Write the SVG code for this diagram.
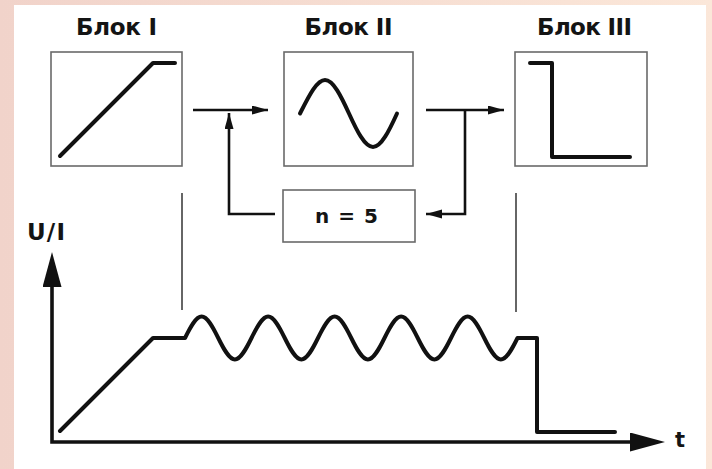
<svg xmlns="http://www.w3.org/2000/svg" width="712" height="469" viewBox="0 0 712 469">
<defs>
<linearGradient id="bg" x1="0" y1="0" x2="1" y2="0">
<stop offset="0" stop-color="#f1d3ca"/>
<stop offset="1" stop-color="#fbe7d9"/>
</linearGradient>
<marker id="axArrow" markerUnits="userSpaceOnUse" markerWidth="36" markerHeight="20" refX="2" refY="9.5" orient="auto-start-reverse">
<path d="M0,0 L35,9.5 L0,19 Z" fill="#111"/>
</marker>
<marker id="cnArrow" markerUnits="userSpaceOnUse" markerWidth="18" markerHeight="10" refX="16" refY="4.5" orient="auto">
<path d="M0,0 L16,4.5 L0,9 Z" fill="#111"/>
</marker>
<style>
.box{fill:#fff;stroke:#6a6a6a;stroke-width:1.6}
.ttl{font-family:"DejaVu Sans","Liberation Sans",sans-serif;font-weight:bold;font-size:23px;fill:#141414;text-anchor:middle}
.lbl{font-family:"DejaVu Sans","Liberation Sans",sans-serif;font-weight:bold;fill:#141414}
.sig{fill:none;stroke:#111;stroke-width:4;stroke-linejoin:round;stroke-linecap:round}
.con{fill:none;stroke:#111;stroke-width:2.6}
.thin{fill:none;stroke:#333;stroke-width:1.5}
.axis{fill:none;stroke:#111;stroke-width:3.6}
</style>
</defs>
<rect x="0" y="0" width="712" height="469" fill="url(#bg)"/>
<rect x="14" y="5" width="692" height="464" fill="#fff"/>

<g id="block1">
<text class="ttl" x="116.5" y="35" textLength="81" lengthAdjust="spacing">Блок I</text>
<rect class="box" x="51" y="52" width="131" height="114"/>
<path class="sig" d="M60,156 L153,63 L175,63"/>
</g>

<g id="block2">
<text class="ttl" x="348.5" y="35" textLength="88" lengthAdjust="spacing">Блок II</text>
<rect class="box" x="284" y="52" width="129" height="114"/>
<path class="sig" d="M300,113.5 C308.8,96.3 316.7,80 325,80 S341.2,96.3 349,113.5 S364.8,147 373,147 S389.2,130.7 397,113.5"/>
</g>

<g id="block3">
<text class="ttl" x="584.5" y="35" textLength="95" lengthAdjust="spacing">Блок III</text>
<rect class="box" x="515" y="52" width="132" height="114"/>
<path class="sig" d="M530,63 L552,63 L552,157 L630,157"/>
</g>

<g id="counter">
<rect class="box" x="283" y="190" width="132" height="52"/>
<text class="lbl" x="346.5" y="223" font-size="20" text-anchor="middle" textLength="63" lengthAdjust="spacing">n = 5</text>
</g>

<g id="connectors">
<path class="con" d="M193,110 L268,110" marker-end="url(#cnArrow)"/>
<path class="con" d="M275,214 L229,214 L229,113" marker-end="url(#cnArrow)"/>
<path class="con" d="M426,110 L504,110" marker-end="url(#cnArrow)"/>
<path class="con" d="M465,110 L465,214 L426,214" marker-end="url(#cnArrow)"/>
<path class="thin" d="M182,193 L182,310"/>
<path class="thin" d="M516,193 L516,312"/>
</g>

<g id="chart">
<path class="axis" d="M52,285 L52,442 L632,442" marker-start="url(#axArrow)" marker-end="url(#axArrow)"/>
<text class="lbl" x="27" y="240" font-size="23" textLength="38" lengthAdjust="spacing">U/I</text>
<text class="lbl" x="675" y="447" font-size="21">t</text>
<path class="sig" d="M60,431 L153,338 L185,338 c5.42,-11.01 10.91,-21.5 16.625,-21.5 s11.205,10.49 16.625,21.5 s10.91,21.5 16.625,21.5 s11.205,-10.49 16.625,-21.5 s10.91,-21.5 16.625,-21.5 s11.205,10.49 16.625,21.5 s10.91,21.5 16.625,21.5 s11.205,-10.49 16.625,-21.5 s10.91,-21.5 16.625,-21.5 s11.205,10.49 16.625,21.5 s10.91,21.5 16.625,21.5 s11.205,-10.49 16.625,-21.5 s10.91,-21.5 16.625,-21.5 s11.205,10.49 16.625,21.5 s10.91,21.5 16.625,21.5 s11.205,-10.49 16.625,-21.5 s10.91,-21.5 16.625,-21.5 s11.205,10.49 16.625,21.5 s10.91,21.5 16.625,21.5 s11.205,-10.49 16.625,-21.5 L537,338 L537,432 L615,432"/>
</g>
</svg>
